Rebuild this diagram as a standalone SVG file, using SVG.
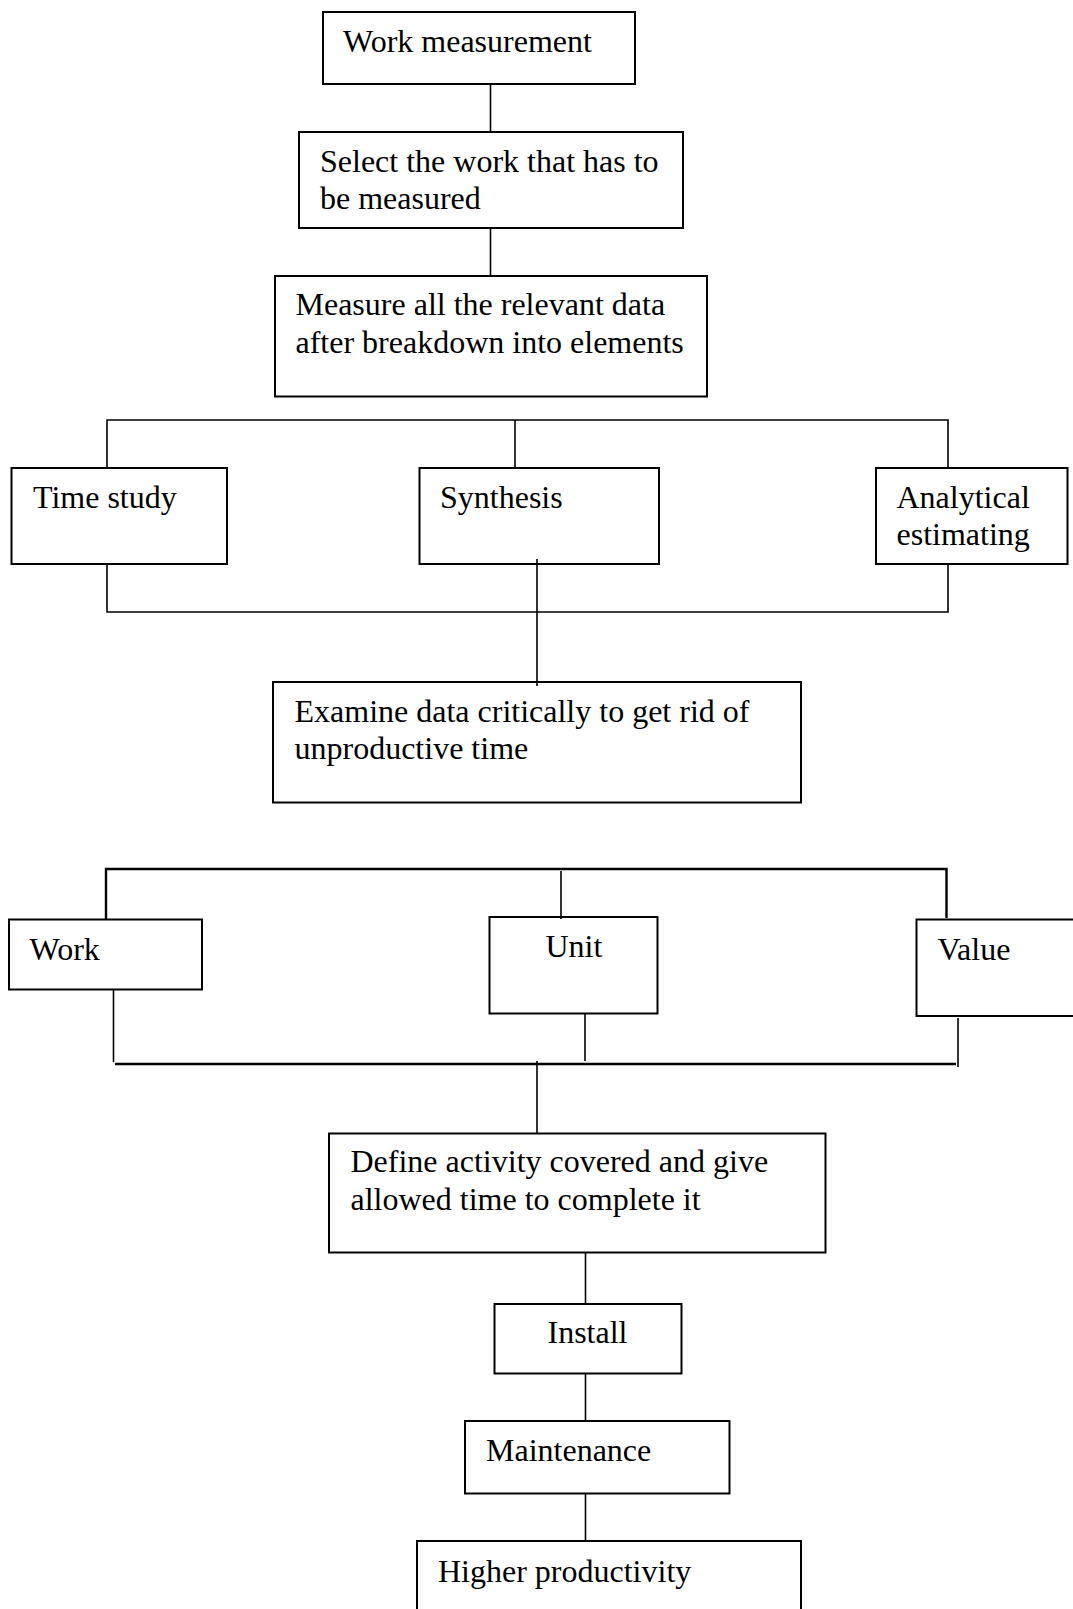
<svg xmlns="http://www.w3.org/2000/svg" width="1073" height="1609" viewBox="0 0 1073 1609">
<style>
.box{fill:#fff;stroke:#000;stroke-width:2}
.ln{fill:none;stroke:#000;stroke-width:1.6}
.lt{fill:none;stroke:#000;stroke-width:2.4}
text{font-family:"Liberation Serif","Times New Roman",serif;font-size:32px;fill:#000}
</style>
<rect width="1073" height="1609" fill="#fff"/>
<g id="n1"><rect class="box" x="323" y="12" width="312" height="72"/><text x="343" y="52">Work measurement</text></g>
<g id="n2"><rect class="box" x="299" y="132" width="384" height="96"/><text x="320" y="172">Select the work that has to</text><text x="320" y="209">be measured</text></g>
<g id="n3"><rect class="box" x="275" y="276" width="432" height="120.5"/><text x="295.5" y="315">Measure all the relevant data</text><text x="295.5" y="352.5">after breakdown into elements</text></g>
<g id="n4"><rect class="box" x="11.5" y="468" width="215.5" height="96"/><text x="33" y="508">Time study</text></g>
<g id="n5"><rect class="box" x="419.5" y="468" width="239.5" height="96"/><text x="440" y="508">Synthesis</text></g>
<g id="n6"><rect class="box" x="876" y="468" width="191.5" height="96"/><text x="896.5" y="508">Analytical</text><text x="896.5" y="545">estimating</text></g>
<g id="n7"><rect class="box" x="273" y="682" width="528" height="120.5"/><text x="294.5" y="721.5">Examine data critically to get rid of</text><text x="294.5" y="759">unproductive time</text></g>
<g id="n8"><rect class="box" x="9" y="919.5" width="193" height="70"/><text x="29.5" y="960">Work</text></g>
<g id="n9"><rect class="box" x="489.5" y="917" width="168" height="96.5"/><text x="545.5" y="956.5">Unit</text></g>
<g id="n10"><rect class="box" x="916.5" y="919.5" width="164" height="96.5"/><text x="937.5" y="960">Value</text></g>
<g id="n11"><rect class="box" x="329" y="1133.5" width="496.5" height="119"/><text x="350.5" y="1172">Define activity covered and give</text><text x="350.5" y="1210">allowed time to complete it</text></g>
<g id="n12"><rect class="box" x="494.5" y="1304" width="187" height="69.5"/><text x="547.5" y="1343">Install</text></g>
<g id="n13"><rect class="box" x="465" y="1421" width="264.5" height="72.5"/><text x="486" y="1461">Maintenance</text></g>
<g id="n14"><rect class="box" x="417" y="1541" width="384" height="90"/><text x="438" y="1581.5">Higher productivity</text></g>
<g id="connectors">
<line class="ln" x1="490.5" y1="84" x2="490.5" y2="132"/>
<line class="ln" x1="490.5" y1="228" x2="490.5" y2="276"/>
<polyline class="ln" points="107,468 107,420 948,420 948,468"/>
<line class="ln" x1="515" y1="420" x2="515" y2="468"/>
<polyline class="ln" points="107,564 107,612 948,612 948,564"/>
<line class="ln" x1="537" y1="559" x2="537" y2="686"/>
<polyline class="lt" points="106,919 106,869 946.5,869 946.5,918"/>
<line class="ln" x1="561" y1="871" x2="561" y2="919"/>
<line class="ln" x1="113.5" y1="990" x2="113.5" y2="1062"/>
<line class="ln" x1="585" y1="1014" x2="585" y2="1061"/>
<line class="ln" x1="958" y1="1018" x2="958" y2="1067"/>
<line class="lt" x1="115" y1="1064" x2="956" y2="1064"/>
<line class="ln" x1="537" y1="1061" x2="537" y2="1134"/>
<line class="ln" x1="585.5" y1="1253" x2="585.5" y2="1304"/>
<line class="ln" x1="585.5" y1="1373" x2="585.5" y2="1421"/>
<line class="ln" x1="585.5" y1="1493" x2="585.5" y2="1541"/>
</g>
</svg>
